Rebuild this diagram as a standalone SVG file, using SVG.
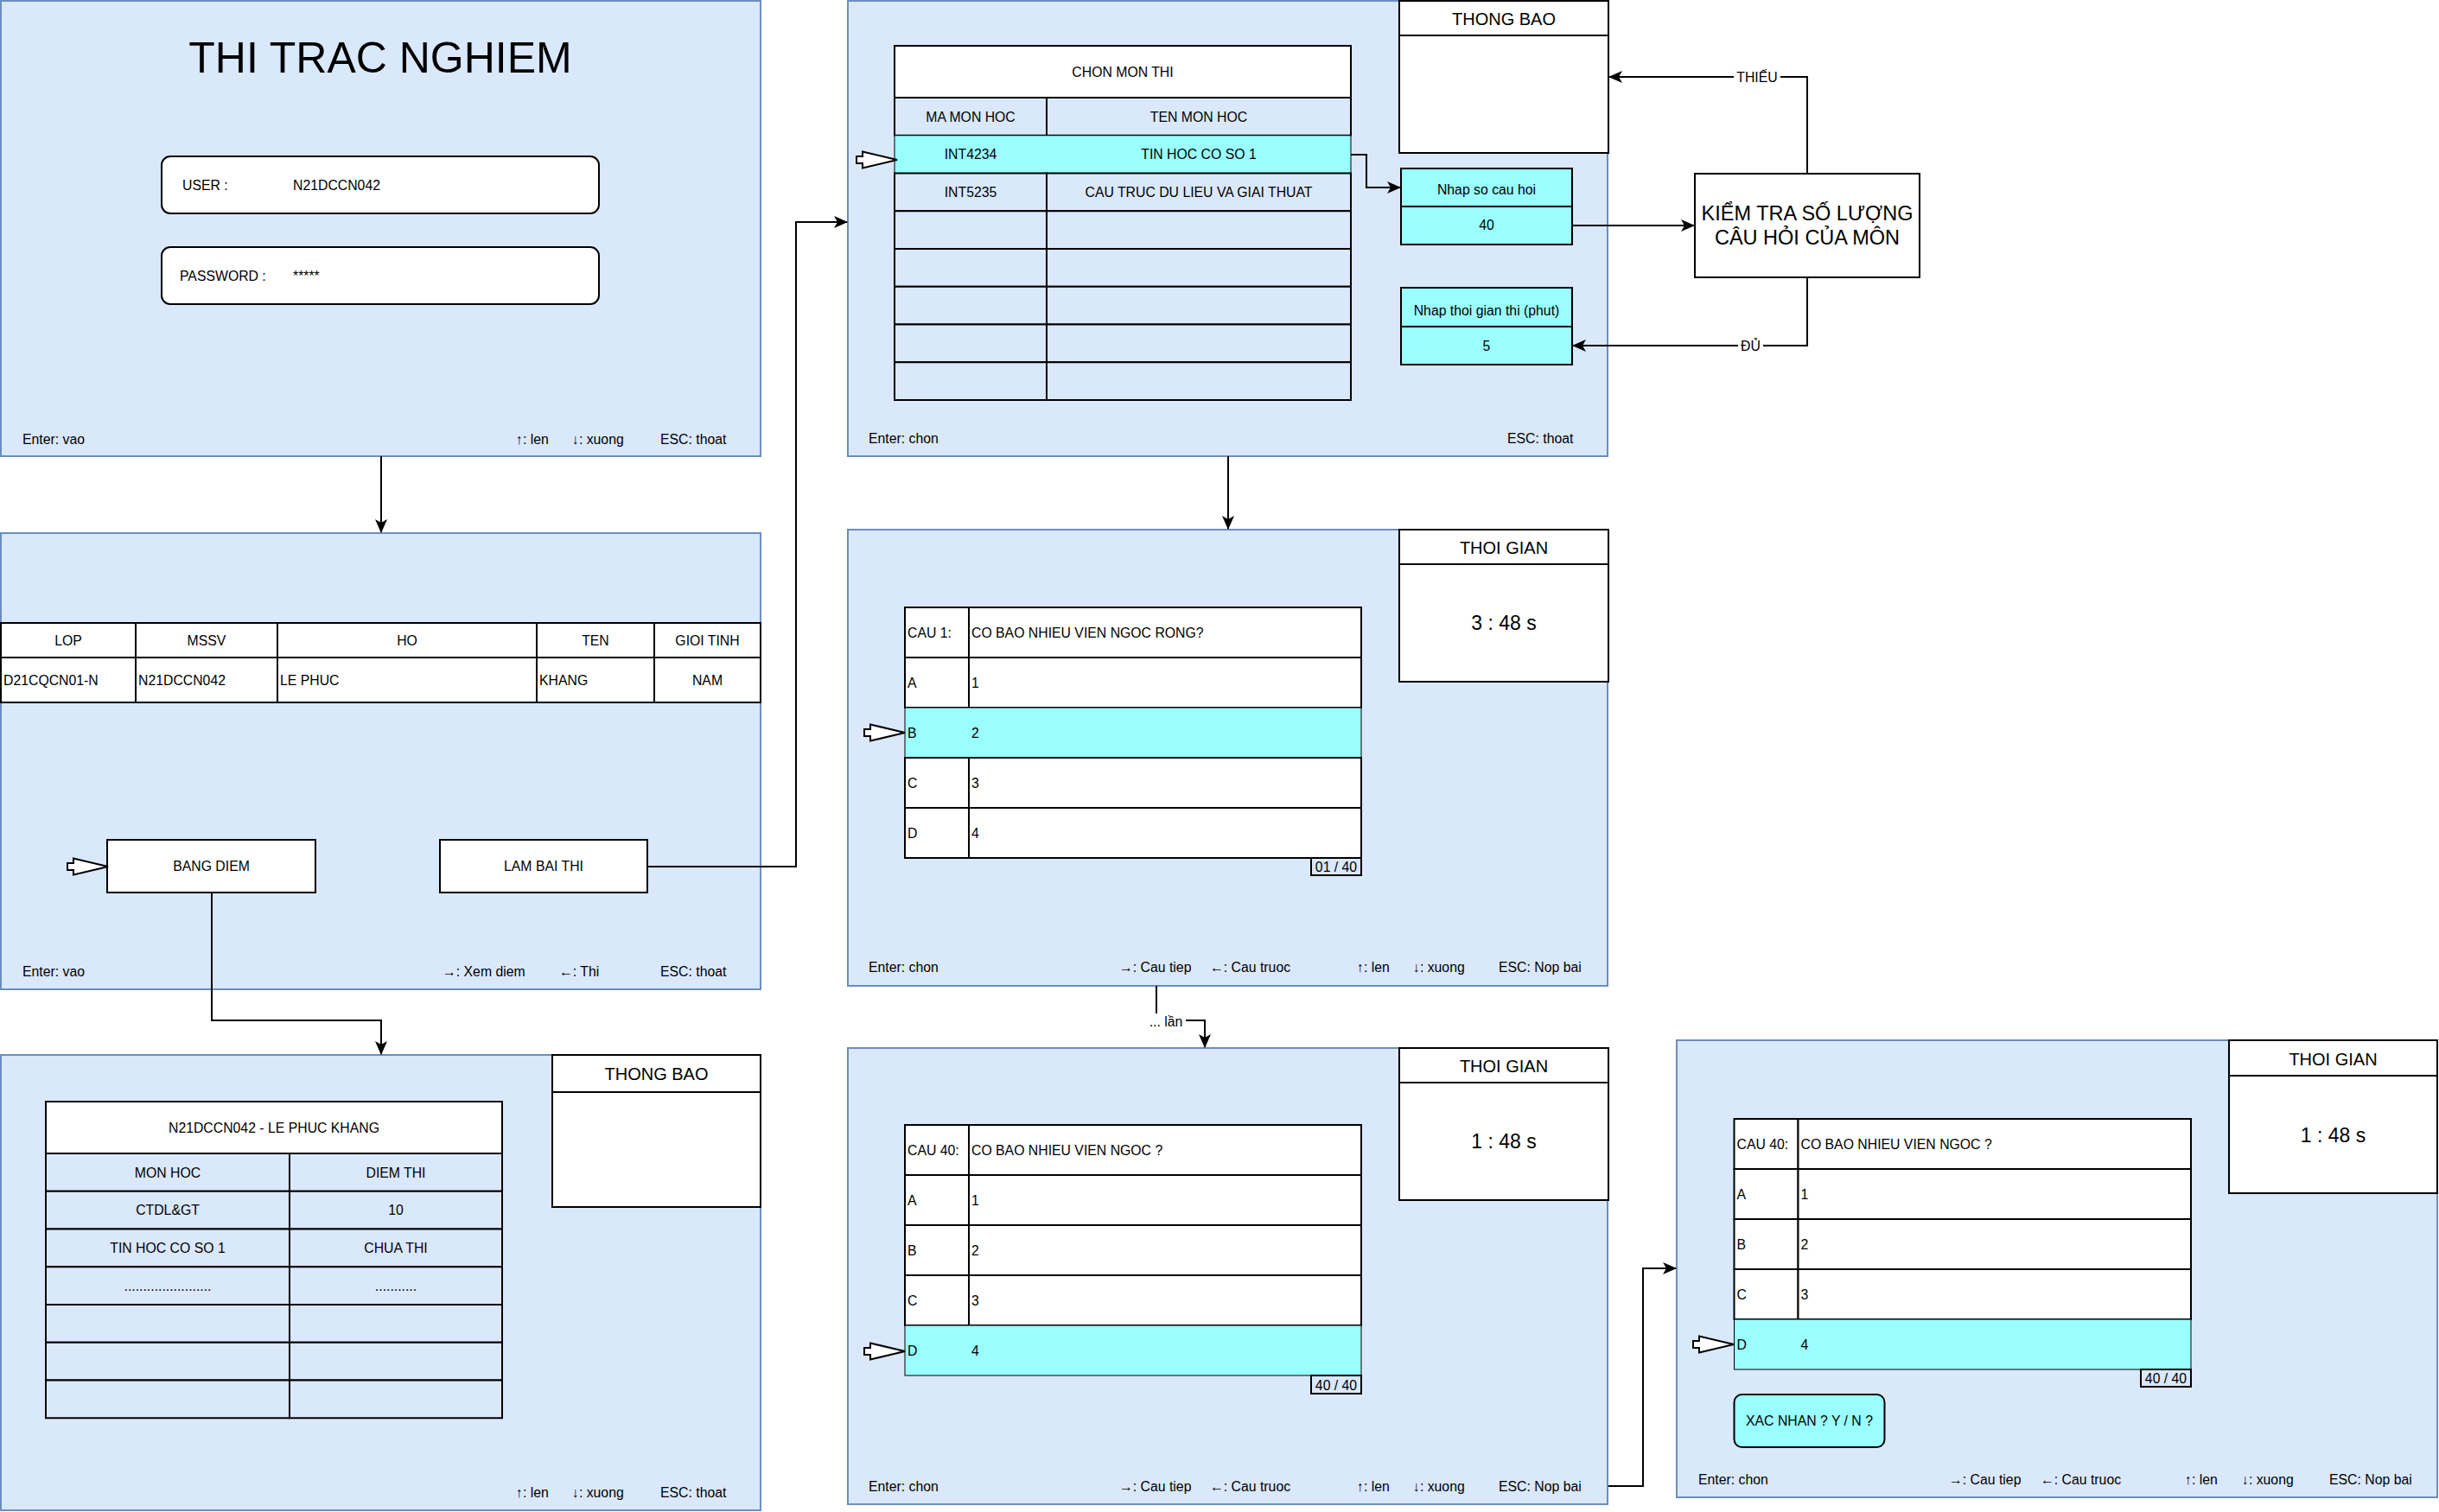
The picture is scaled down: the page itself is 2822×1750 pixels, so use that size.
<svg xmlns="http://www.w3.org/2000/svg" xmlns:xlink="http://www.w3.org/1999/xlink" width="2822" height="1750" viewBox="0 0 2822 1750">
<style>
text{font-family:"Liberation Sans",Arial,sans-serif;font-size:15.8px;fill:#000}
.c{text-anchor:middle}
.h{font-size:20px}
.big{font-size:23px}
.title{font-size:50px}
.kt{font-size:23.5px}
.panel{fill:#dae8fc;stroke:#6c8ebf;stroke-width:2}
.w{fill:#fff;stroke:#000;stroke-width:2}
.lb{fill:#dae8fc;stroke:#000;stroke-width:2}
.cy{fill:#99ffff;stroke:#000;stroke-width:2}
.hl{fill:#99ffff;stroke:#000;stroke-width:1}
.conn{fill:none;stroke:#000;stroke-width:2}
.ptr{fill:#fff;stroke:#000;stroke-width:2}
.lbl{fill:#fff;stroke:none}
</style>
<defs>
<marker id="arr" viewBox="0 0 16 16" refX="15" refY="8" markerWidth="16" markerHeight="16" orient="auto" markerUnits="userSpaceOnUse">
<path d="M16,8 L0,1 L4,8 L0,15 Z" fill="#000"/>
</marker>
<path id="ptr" class="ptr" d="M0,0 L-40,-9.5 L-40,-4 L-47,-4 L-47,4 L-40,4 L-40,9.5 Z"/>
</defs>
<rect width="2822" height="1750" fill="#fff"/>

<!-- Panel 1: login -->
<g id="login">
<rect class="panel" x="1" y="1" width="879" height="527"/>
<text class="c title" x="440" y="84">THI TRAC NGHIEM</text>
<rect class="w" x="187" y="181" width="506" height="66" rx="10"/>
<text x="211" y="220">USER :</text>
<text x="339" y="220">N21DCCN042</text>
<rect class="w" x="187" y="286" width="506" height="66" rx="10"/>
<text x="208" y="325">PASSWORD :</text>
<text x="339" y="325">*****</text>
<text x="26" y="514">Enter: vao</text>
<text x="597" y="514">↑: len</text>
<text x="662" y="514">↓: xuong</text>
<text x="764" y="514">ESC: thoat</text>
</g>

<!-- Panel 2: student info -->
<g id="info">
<rect class="panel" x="1" y="617" width="879" height="528"/>
<rect class="w" x="1" y="721" width="156" height="40"/>
<rect class="w" x="157" y="721" width="164" height="40"/>
<rect class="w" x="321" y="721" width="300" height="40"/>
<rect class="w" x="621" y="721" width="136" height="40"/>
<rect class="w" x="757" y="721" width="123" height="40"/>
<rect class="w" x="1" y="761" width="156" height="52"/>
<rect class="w" x="157" y="761" width="164" height="52"/>
<rect class="w" x="321" y="761" width="300" height="52"/>
<rect class="w" x="621" y="761" width="136" height="52"/>
<rect class="w" x="757" y="761" width="123" height="52"/>
<text class="c" x="79" y="746.5">LOP</text>
<text class="c" x="239" y="746.5">MSSV</text>
<text class="c" x="471" y="746.5">HO</text>
<text class="c" x="689" y="746.5">TEN</text>
<text class="c" x="818.5" y="746.5">GIOI TINH</text>
<text x="4" y="792.5">D21CQCN01-N</text>
<text x="160" y="792.5">N21DCCN042</text>
<text x="324" y="792.5">LE PHUC</text>
<text x="624" y="792.5">KHANG</text>
<text class="c" x="818.5" y="792.5">NAM</text>
<g id="btn-bangdiem">
<rect class="w" x="124" y="972" width="241" height="61"/>
<text class="c" x="244.5" y="1008">BANG DIEM</text>
</g>
<g id="btn-lambaithi">
<rect class="w" x="509" y="972" width="240" height="61"/>
<text class="c" x="629" y="1008">LAM BAI THI</text>
</g>
<use xlink:href="#ptr" x="125" y="1003"/>
<text x="26" y="1130">Enter: vao</text>
<text x="512" y="1130">→: Xem diem</text>
<text x="647" y="1130">←: Thi</text>
<text x="764" y="1130">ESC: thoat</text>
</g>

<!-- Panel 3: score board -->
<g id="scores">
<rect class="panel" x="1" y="1221" width="879" height="527"/>
<rect class="w" x="639" y="1221" width="241" height="176"/>
<line x1="639" y1="1264" x2="880" y2="1264" stroke="#000" stroke-width="2"/>
<text class="c h" x="759.5" y="1250">THONG BAO</text>
<rect class="w" x="53" y="1275" width="528" height="60"/>
<text class="c" x="317" y="1310.5">N21DCCN042 - LE PHUC KHANG</text>
<rect class="lb" x="53" y="1335" width="282" height="43.75"/>
<rect class="lb" x="335" y="1335" width="246" height="43.75"/>
<rect class="lb" x="53" y="1378.75" width="282" height="43.75"/>
<rect class="lb" x="335" y="1378.75" width="246" height="43.75"/>
<rect class="lb" x="53" y="1422.5" width="282" height="43.75"/>
<rect class="lb" x="335" y="1422.5" width="246" height="43.75"/>
<rect class="lb" x="53" y="1466.25" width="282" height="43.75"/>
<rect class="lb" x="335" y="1466.25" width="246" height="43.75"/>
<rect class="lb" x="53" y="1510" width="282" height="43.75"/>
<rect class="lb" x="335" y="1510" width="246" height="43.75"/>
<rect class="lb" x="53" y="1553.75" width="282" height="43.75"/>
<rect class="lb" x="335" y="1553.75" width="246" height="43.75"/>
<rect class="lb" x="53" y="1597.5" width="282" height="43.75"/>
<rect class="lb" x="335" y="1597.5" width="246" height="43.75"/>
<text class="c" x="194" y="1362.5">MON HOC</text>
<text class="c" x="458" y="1362.5">DIEM THI</text>
<text class="c" x="194" y="1406">CTDL&amp;GT</text>
<text class="c" x="458" y="1406">10</text>
<text class="c" x="194" y="1450">TIN HOC CO SO 1</text>
<text class="c" x="458" y="1450">CHUA THI</text>
<text class="c" x="194" y="1493.5">.......................</text>
<text class="c" x="458" y="1493.5">...........</text>
<text x="597" y="1733">↑: len</text>
<text x="662" y="1733">↓: xuong</text>
<text x="764" y="1733">ESC: thoat</text>
</g>

<!-- Panel 4: choose subject -->
<g id="chonmon">
<rect class="panel" x="981" y="1" width="879" height="527"/>
<rect class="w" x="1035" y="53" width="528" height="60"/>
<text class="c" x="1299" y="88.5">CHON MON THI</text>
<rect class="lb" x="1035" y="113" width="176" height="43.75"/>
<rect class="lb" x="1211" y="113" width="352" height="43.75"/>
<rect class="hl" x="1035" y="156.75" width="528" height="43.75"/>
<rect class="lb" x="1035" y="200.5" width="176" height="43.75"/>
<rect class="lb" x="1211" y="200.5" width="352" height="43.75"/>
<rect class="lb" x="1035" y="244.25" width="176" height="43.75"/>
<rect class="lb" x="1211" y="244.25" width="352" height="43.75"/>
<rect class="lb" x="1035" y="288" width="176" height="43.75"/>
<rect class="lb" x="1211" y="288" width="352" height="43.75"/>
<rect class="lb" x="1035" y="331.75" width="176" height="43.75"/>
<rect class="lb" x="1211" y="331.75" width="352" height="43.75"/>
<rect class="lb" x="1035" y="375.5" width="176" height="43.75"/>
<rect class="lb" x="1211" y="375.5" width="352" height="43.75"/>
<rect class="lb" x="1035" y="419.25" width="176" height="43.75"/>
<rect class="lb" x="1211" y="419.25" width="352" height="43.75"/>
<text class="c" x="1123" y="140.5">MA MON HOC</text>
<text class="c" x="1387" y="140.5">TEN MON HOC</text>
<text class="c" x="1123" y="184">INT4234</text>
<text class="c" x="1387" y="184">TIN HOC CO SO 1</text>
<text class="c" x="1123" y="228">INT5235</text>
<text class="c" x="1387" y="228">CAU TRUC DU LIEU VA GIAI THUAT</text>
<use xlink:href="#ptr" x="1038" y="185"/>
<text x="1005" y="513">Enter: chon</text>
<text x="1744" y="513">ESC: thoat</text>
</g>
<g id="thongbao-chon">
<rect class="w" x="1619" y="1" width="242" height="176"/>
<line x1="1619" y1="41" x2="1861" y2="41" stroke="#000" stroke-width="2"/>
<text class="c h" x="1740" y="29">THONG BAO</text>
</g>
<g id="nhap-socau">
<rect class="cy" x="1621" y="195" width="198" height="44"/>
<rect class="cy" x="1621" y="239" width="198" height="44"/>
<text class="c" x="1720" y="225">Nhap so cau hoi</text>
<text class="c" x="1720" y="266">40</text>
</g>
<g id="nhap-thoigian">
<rect class="cy" x="1621" y="333" width="198" height="45"/>
<rect class="cy" x="1621" y="378" width="198" height="44"/>
<text class="c" x="1720" y="365">Nhap thoi gian thi (phut)</text>
<text class="c" x="1720" y="405.5">5</text>
</g>
<g id="kiemtra">
<rect class="w" x="1961" y="201" width="260" height="120"/>
<text class="c kt" x="2091" y="255">KIỂM TRA SỐ LƯỢNG</text>
<text class="c kt" x="2091" y="283">CÂU HỎI CỦA MÔN</text>
</g>

<!-- Panel 5: question 1 -->
<g id="cau1">
<rect class="panel" x="981" y="613" width="879" height="528"/>
<rect class="w" x="1047" y="703" width="74" height="58"/>
<rect class="w" x="1121" y="703" width="454" height="58"/>
<rect class="w" x="1047" y="761" width="74" height="58"/>
<rect class="w" x="1121" y="761" width="454" height="58"/>
<rect class="hl" x="1047" y="819" width="528" height="58"/>
<rect class="w" x="1047" y="877" width="74" height="58"/>
<rect class="w" x="1121" y="877" width="454" height="58"/>
<rect class="w" x="1047" y="935" width="74" height="58"/>
<rect class="w" x="1121" y="935" width="454" height="58"/>
<text x="1050" y="737.5">CAU 1:</text>
<text x="1124" y="737.5">CO BAO NHIEU VIEN NGOC RONG?</text>
<text x="1050" y="795.5">A</text><text x="1124" y="795.5">1</text>
<text x="1050" y="853.5">B</text><text x="1124" y="853.5">2</text>
<text x="1050" y="911.5">C</text><text x="1124" y="911.5">3</text>
<text x="1050" y="969.5">D</text><text x="1124" y="969.5">4</text>
<rect class="lb" x="1517" y="993" width="58" height="20"/>
<text class="c" x="1546" y="1009">01 / 40</text>
<use xlink:href="#ptr" x="1047" y="848"/>
<rect class="w" x="1619" y="613" width="242" height="176"/>
<line x1="1619" y1="653" x2="1861" y2="653" stroke="#000" stroke-width="2"/>
<text class="c h" x="1740" y="641">THOI GIAN</text>
<text class="c big" x="1740" y="729">3 : 48 s</text>
<text x="1005" y="1125">Enter: chon</text>
<text x="1295" y="1125">→: Cau tiep</text>
<text x="1400" y="1125">←: Cau truoc</text>
<text x="1570" y="1125">↑: len</text>
<text x="1635" y="1125">↓: xuong</text>
<text x="1734" y="1125">ESC: Nop bai</text>
</g>

<!-- Panel 6: question 40 -->
<g id="cau40">
<rect class="panel" x="981" y="1213" width="879" height="528"/>
<rect class="w" x="1047" y="1302" width="74" height="58"/>
<rect class="w" x="1121" y="1302" width="454" height="58"/>
<rect class="w" x="1047" y="1360" width="74" height="58"/>
<rect class="w" x="1121" y="1360" width="454" height="58"/>
<rect class="w" x="1047" y="1418" width="74" height="58"/>
<rect class="w" x="1121" y="1418" width="454" height="58"/>
<rect class="w" x="1047" y="1476" width="74" height="58"/>
<rect class="w" x="1121" y="1476" width="454" height="58"/>
<rect class="hl" x="1047" y="1534" width="528" height="58"/>
<text x="1050" y="1336.5">CAU 40:</text>
<text x="1124" y="1336.5">CO BAO NHIEU VIEN NGOC ?</text>
<text x="1050" y="1394.5">A</text><text x="1124" y="1394.5">1</text>
<text x="1050" y="1452.5">B</text><text x="1124" y="1452.5">2</text>
<text x="1050" y="1510.5">C</text><text x="1124" y="1510.5">3</text>
<text x="1050" y="1568.5">D</text><text x="1124" y="1568.5">4</text>
<rect class="lb" x="1517" y="1592" width="58" height="21"/>
<text class="c" x="1546" y="1608.5">40 / 40</text>
<use xlink:href="#ptr" x="1047" y="1564"/>
<rect class="w" x="1619" y="1213" width="242" height="176"/>
<line x1="1619" y1="1253" x2="1861" y2="1253" stroke="#000" stroke-width="2"/>
<text class="c h" x="1740" y="1241">THOI GIAN</text>
<text class="c big" x="1740" y="1329">1 : 48 s</text>
<text x="1005" y="1726">Enter: chon</text>
<text x="1295" y="1726">→: Cau tiep</text>
<text x="1400" y="1726">←: Cau truoc</text>
<text x="1570" y="1726">↑: len</text>
<text x="1635" y="1726">↓: xuong</text>
<text x="1734" y="1726">ESC: Nop bai</text>
</g>

<!-- Panel 7: confirm -->
<g id="xacnhan">
<rect class="panel" x="1940" y="1204" width="880" height="529"/>
<rect class="w" x="2006.5" y="1295" width="74" height="58"/>
<rect class="w" x="2080.5" y="1295" width="454.5" height="58"/>
<rect class="w" x="2006.5" y="1353" width="74" height="58"/>
<rect class="w" x="2080.5" y="1353" width="454.5" height="58"/>
<rect class="w" x="2006.5" y="1411" width="74" height="58"/>
<rect class="w" x="2080.5" y="1411" width="454.5" height="58"/>
<rect class="w" x="2006.5" y="1469" width="74" height="58"/>
<rect class="w" x="2080.5" y="1469" width="454.5" height="58"/>
<rect class="hl" x="2006.5" y="1527" width="528.5" height="58"/>
<text x="2009.5" y="1329.5">CAU 40:</text>
<text x="2083.5" y="1329.5">CO BAO NHIEU VIEN NGOC ?</text>
<text x="2009.5" y="1387.5">A</text><text x="2083.5" y="1387.5">1</text>
<text x="2009.5" y="1445.5">B</text><text x="2083.5" y="1445.5">2</text>
<text x="2009.5" y="1503.5">C</text><text x="2083.5" y="1503.5">3</text>
<text x="2009.5" y="1561.5">D</text><text x="2083.5" y="1561.5">4</text>
<rect class="lb" x="2477" y="1585" width="58" height="20"/>
<text class="c" x="2506" y="1601">40 / 40</text>
<use xlink:href="#ptr" x="2006" y="1556"/>
<rect class="cy" x="2006.5" y="1614" width="174" height="61" rx="9"/>
<text class="c" x="2093.5" y="1650">XAC NHAN ? Y / N ?</text>
<rect class="w" x="2579" y="1204" width="241" height="177"/>
<line x1="2579" y1="1245" x2="2820" y2="1245" stroke="#000" stroke-width="2"/>
<text class="c h" x="2699.5" y="1233">THOI GIAN</text>
<text class="c big" x="2699.5" y="1322">1 : 48 s</text>
<text x="1965" y="1718">Enter: chon</text>
<text x="2255" y="1718">→: Cau tiep</text>
<text x="2361" y="1718">←: Cau truoc</text>
<text x="2528" y="1718">↑: len</text>
<text x="2594" y="1718">↓: xuong</text>
<text x="2695" y="1718">ESC: Nop bai</text>
</g>

<!-- Connectors -->
<g id="connectors">
<path class="conn" d="M441,528 L441,616" marker-end="url(#arr)"/>
<path class="conn" d="M245,1033 L245,1181 L441,1181 L441,1220" marker-end="url(#arr)"/>
<path class="conn" d="M749,1003 L921,1003 L921,257 L980,257" marker-end="url(#arr)"/>
<path class="conn" d="M1563,179 L1581,179 L1581,217 L1620,217" marker-end="url(#arr)"/>
<path class="conn" d="M1819,261 L1960,261" marker-end="url(#arr)"/>
<path class="conn" d="M2091,201 L2091,89 L1862,89" marker-end="url(#arr)"/>
<rect class="lbl" x="2006" y="80" width="54" height="18"/>
<text class="c" x="2033" y="95">THIẾU</text>
<path class="conn" d="M2091,321 L2091,400 L1820,400" marker-end="url(#arr)"/>
<rect class="lbl" x="2011" y="391" width="29" height="18"/>
<text class="c" x="2025.5" y="406">ĐỦ</text>
<path class="conn" d="M1421,528 L1421,612" marker-end="url(#arr)"/>
<path class="conn" d="M1338,1141 L1338,1181 L1394,1181 L1394,1212" marker-end="url(#arr)"/>
<rect class="lbl" x="1328" y="1173" width="44" height="19"/>
<text class="c" x="1349" y="1188">... lần</text>
<path class="conn" d="M1861,1720 L1901,1720 L1901,1468 L1939,1468" marker-end="url(#arr)"/>
</g>
</svg>
